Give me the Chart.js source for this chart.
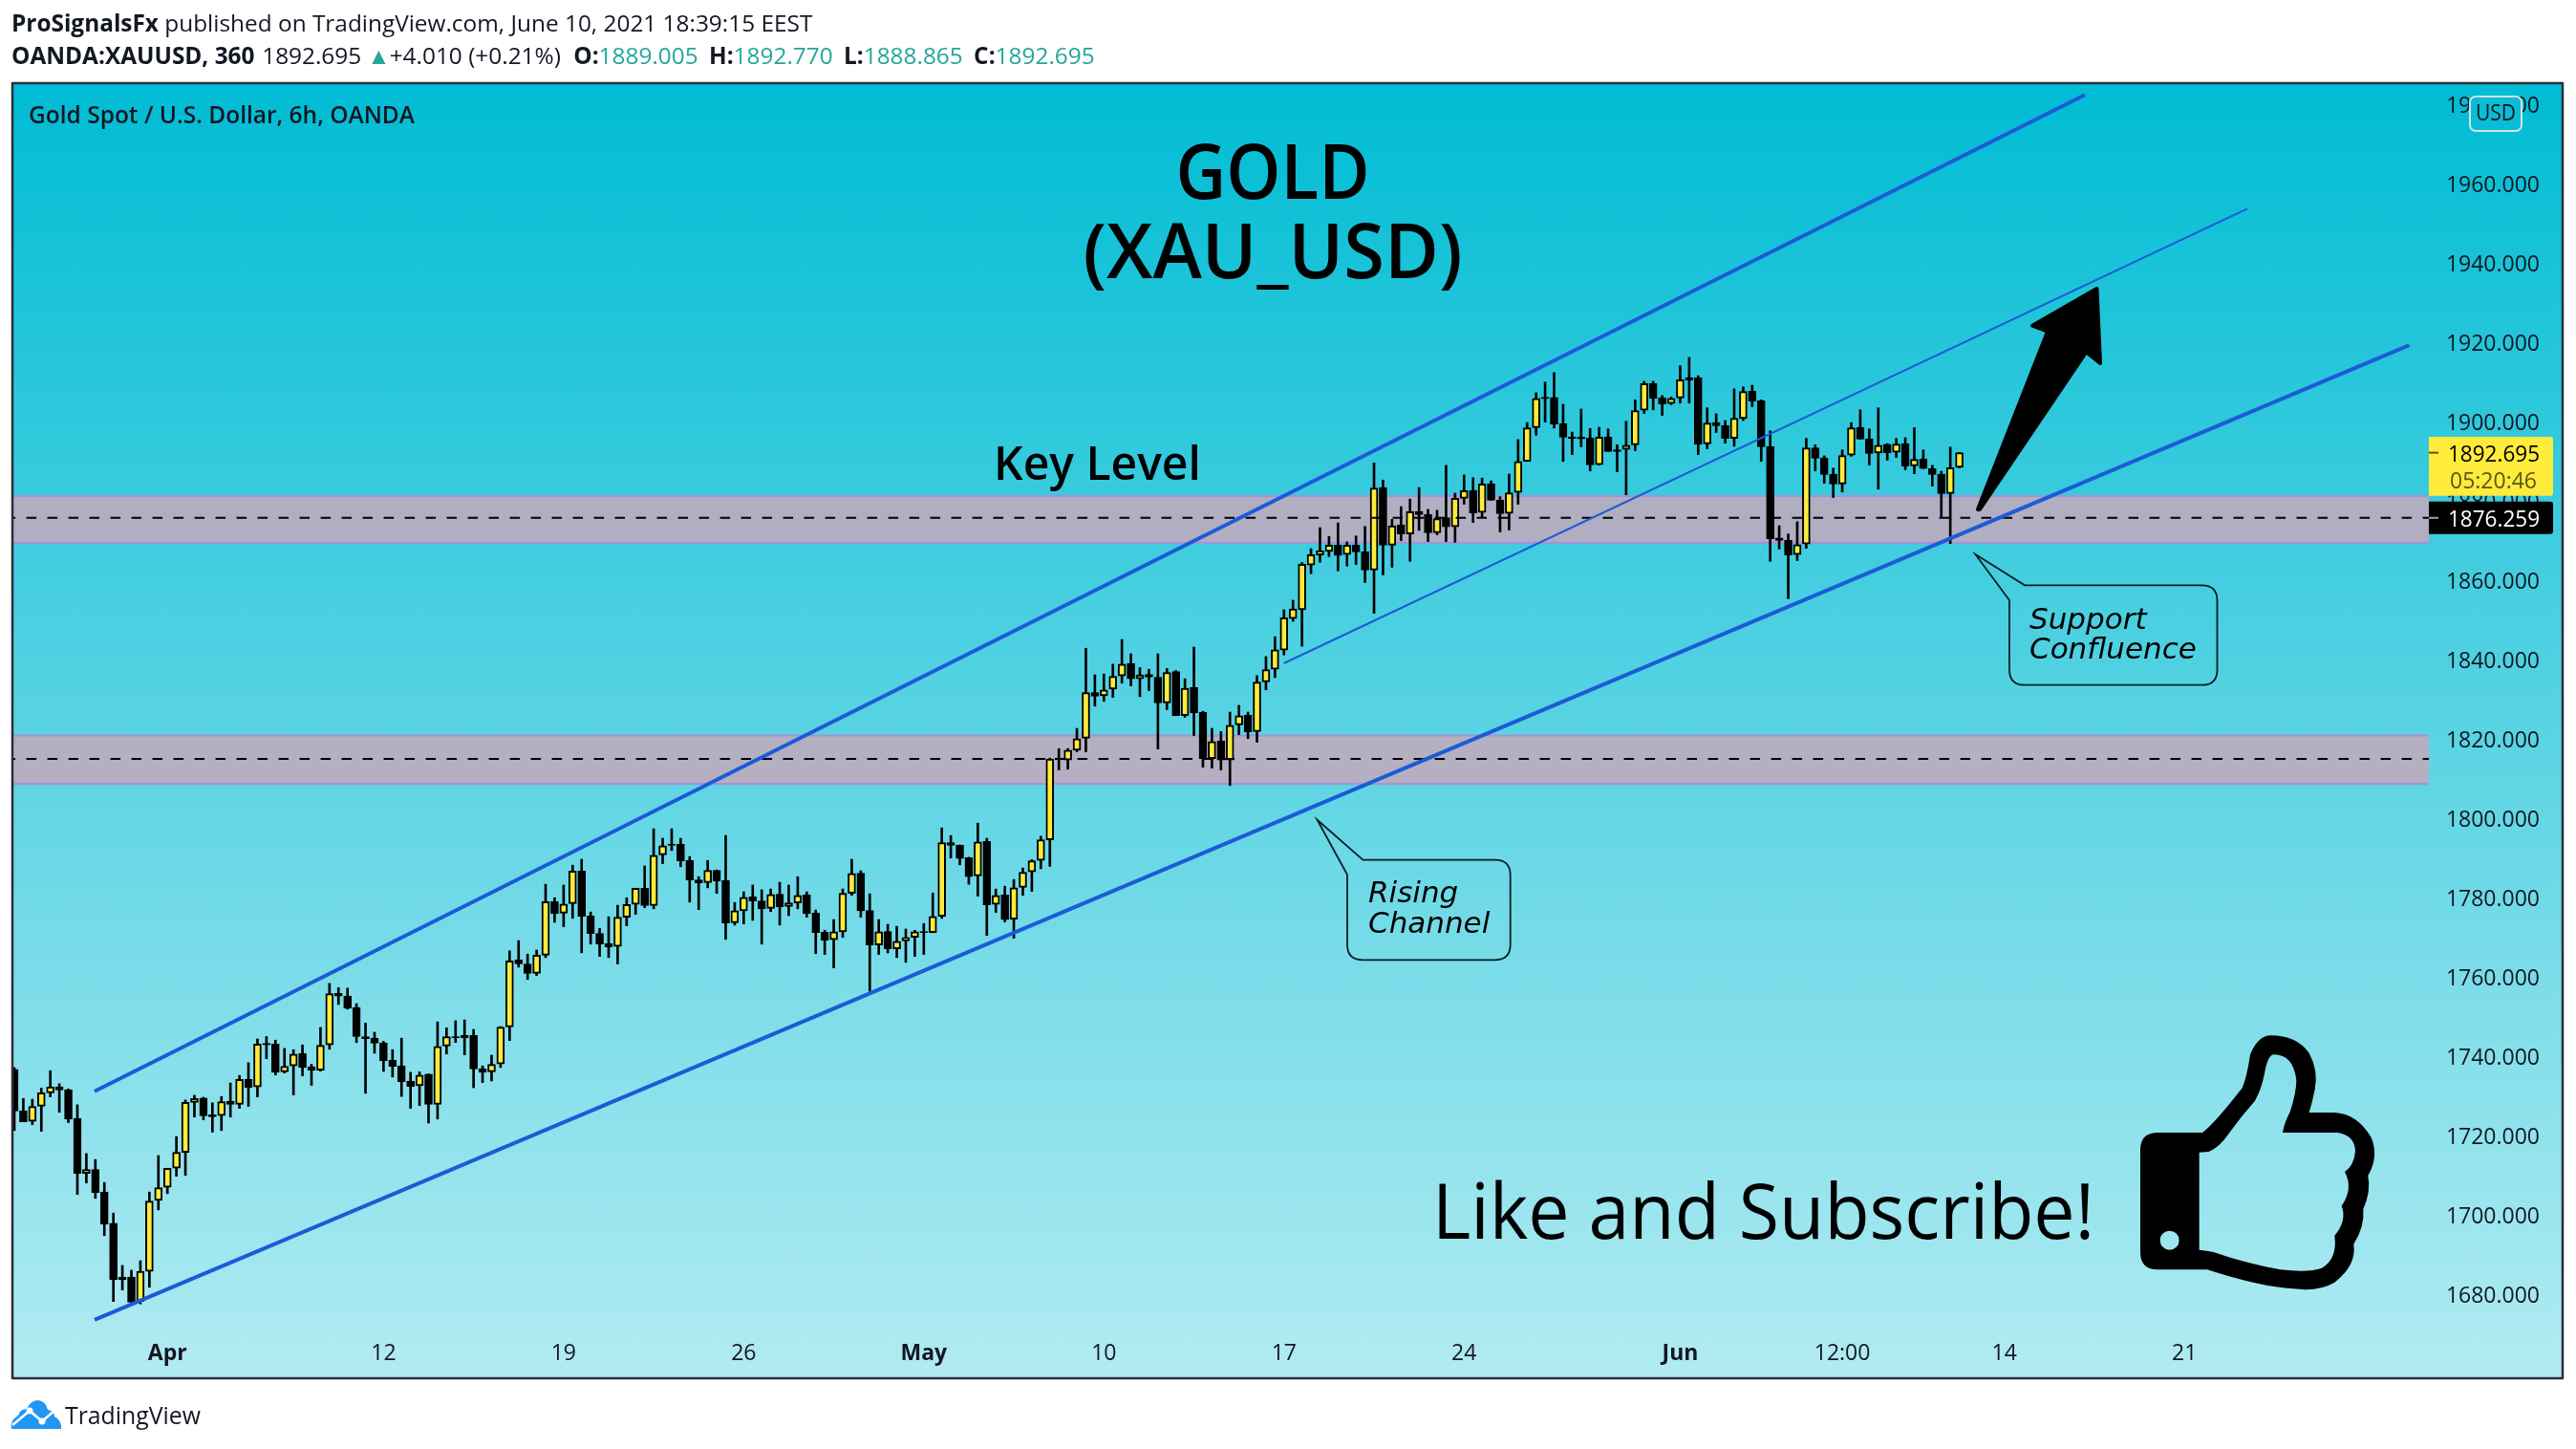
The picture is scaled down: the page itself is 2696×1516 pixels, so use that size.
<!DOCTYPE html>
<html>
<head>
<meta charset="utf-8">
<title>GOLD (XAU_USD)</title>
<script src="https://cdn.jsdelivr.net/npm/chart.js@4/dist/chart.umd.min.js"></script>
<style>
    html, body { margin: 0; padding: 0; background: #fff; }
    body { width: 2696px; height: 1516px; position: relative; overflow: hidden; font-family: "Open Sans", sans-serif; color: #131722; }
    #chartBox { position: absolute; left: 0; top: 0; width: 2696px; height: 1516px; }
    .line { position: absolute; left: 12px; white-space: nowrap; font-size: 24.4px; line-height: 30px; }
    .line b { font-weight: 700; }
    .num { color: #26a69a; }
    .up { color: #26a69a; font-size: 24px; margin-right: -7px; }
    .gap { margin-left: 5px; }
    #brand { position: absolute; left: 68px; top: 1463px; font-size: 24.8px; line-height: 34px; }
    #logo { position: absolute; left: 10px; top: 1462px; }
</style>
</head>
<body>
<div id="chartBox"><canvas id="goldChart" width="2696" height="1516"></canvas></div>
<div class="line" style="top:9px"><b>ProSignalsFx</b> published on TradingView.com, June 10, 2021 18:39:15 EEST</div>
<div class="line" style="top:43px"><b>OANDA:XAUUSD, 360</b>&nbsp;<span style="margin-left:-5px"> 1892.695</span> <span class="up">▲</span> +4.010 (+0.21%) <b style="margin-left:7px">O:</b><span class="num">1889.005</span> <b class="gap">H:</b><span class="num">1892.770</span> <b class="gap">L:</b><span class="num">1888.865</span> <b class="gap">C:</b><span class="num">1892.695</span></div>
<svg id="logo" width="56" height="36" viewBox="0 0 56 36">
    <path fill="#2196f3" d="M2 33 Q0 24 9 19 Q11 12 18 12 Q22 3 30 3 Q38 4 40 13 Q47 14 47 20 Q55 24 54 33 Z"/>
    <polyline fill="none" stroke="#fff" stroke-width="2.5" points="3,29 21,14 34,25 48,13"/>
    <circle cx="21" cy="14" r="3.5" fill="#fff"/>
    <circle cx="34" cy="25" r="3.5" fill="#fff"/>
</svg>
<div id="brand">TradingView</div>

<script>
// candles, one per 6h session, oldest first
const opens = [
    1737.2, 1726.8, 1724.1, 1727.9, 1731.3, 1732.8, 1732.1, 1724.9, 1711.0, 1712.0,
    1706.3, 1698.4, 1684.8, 1684.9, 1678.7, 1686.3, 1704.2, 1707.5, 1712.3, 1716.3,
    1728.9, 1730.0, 1725.8, 1725.6, 1729.2, 1728.4, 1734.7, 1732.8, 1743.8, 1743.6,
    1736.6, 1738.1, 1741.2, 1737.9, 1737.0, 1743.4, 1756.4, 1755.7, 1752.8, 1745.5,
    1745.1, 1743.9, 1739.6, 1738.1, 1734.2, 1733.1, 1736.0, 1728.4, 1743.1, 1745.5,
    1745.8, 1745.8, 1737.4, 1736.6, 1738.6, 1747.9, 1764.8, 1763.8, 1761.4, 1766.0,
    1779.5, 1776.6, 1779.0, 1787.2, 1775.9, 1771.5, 1768.9, 1768.2, 1775.6, 1778.8,
    1782.9, 1778.5, 1791.3, 1794.0, 1794.0, 1789.9, 1785.0, 1784.3, 1787.4, 1784.8,
    1774.2, 1777.2, 1780.7, 1779.7, 1777.8, 1781.4, 1778.3, 1779.2, 1781.2, 1776.6,
    1771.8, 1769.9, 1771.9, 1781.6, 1786.7, 1777.3, 1768.6, 1772.0, 1767.6, 1769.6,
    1770.5, 1772.0, 1771.7, 1775.8, 1794.4, 1793.7, 1790.6, 1786.0, 1794.7, 1778.8,
    1781.2, 1775.1, 1783.1, 1787.0, 1789.9, 1795.1, 1815.7, 1815.2, 1817.7, 1820.7,
    1832.2, 1831.4, 1833.1, 1836.4, 1839.5, 1835.7, 1836.8, 1836.1, 1829.6, 1837.5,
    1826.4, 1833.5, 1827.2, 1815.6, 1820.0, 1815.2, 1824.1, 1826.5, 1822.4, 1834.9,
    1838.1, 1842.9, 1850.9, 1853.1, 1864.4, 1866.9, 1867.8, 1869.4, 1867.0, 1869.4,
    1867.7, 1863.1, 1883.9, 1869.4, 1874.5, 1872.2, 1877.9, 1877.1, 1872.5, 1876.3,
    1874.0, 1881.2, 1883.2, 1877.6, 1884.9, 1880.8, 1877.4, 1882.7, 1890.5, 1899.0,
    1906.7, 1906.6, 1900.0, 1896.7, 1896.6, 1896.4, 1889.7, 1896.7, 1893.4, 1893.5,
    1894.7, 1903.4, 1910.2, 1906.5, 1905.1, 1906.5, 1911.6, 1911.6, 1894.9, 1900.3,
    1899.5, 1896.3, 1901.3, 1908.2, 1905.8, 1894.2, 1871.2, 1870.6, 1867.0, 1869.7,
    1893.9, 1891.4, 1887.3, 1884.8, 1892.1, 1899.1, 1896.2, 1892.6, 1894.8, 1892.8,
    1895.0, 1889.4, 1891.1, 1888.7, 1887.3, 1882.4, 1889.005
];
const highs = [
    1737.7, 1729.9, 1729.7, 1732.5, 1736.9, 1733.6, 1732.3, 1728.3, 1716.0, 1714.5,
    1708.7, 1701.0, 1687.8, 1686.6, 1689.0, 1706.3, 1715.5, 1712.3, 1720.3, 1729.5,
    1730.7, 1730.2, 1728.8, 1730.4, 1733.8, 1735.7, 1738.9, 1744.9, 1745.5, 1744.6,
    1742.5, 1742.2, 1743.4, 1738.5, 1747.8, 1758.9, 1757.8, 1757.7, 1753.8, 1748.9,
    1746.6, 1744.3, 1742.2, 1745.1, 1736.5, 1736.6, 1736.1, 1749.2, 1747.7, 1749.5,
    1749.7, 1747.3, 1738.1, 1740.8, 1748.0, 1767.1, 1769.7, 1766.3, 1767.3, 1783.9,
    1780.5, 1783.7, 1788.7, 1790.2, 1776.9, 1772.8, 1775.7, 1778.6, 1780.5, 1782.9,
    1788.5, 1797.9, 1795.5, 1797.9, 1795.5, 1790.9, 1785.8, 1789.9, 1787.5, 1796.2,
    1779.3, 1782.0, 1783.7, 1782.5, 1782.7, 1784.4, 1783.7, 1785.8, 1782.0, 1777.4,
    1772.3, 1775.0, 1782.7, 1790.2, 1787.3, 1781.5, 1775.0, 1773.8, 1773.3, 1772.6,
    1772.3, 1774.0, 1781.7, 1798.1, 1796.2, 1793.8, 1790.7, 1799.3, 1795.5, 1782.7,
    1783.4, 1785.1, 1788.0, 1790.1, 1796.0, 1815.7, 1818.1, 1818.1, 1823.2, 1843.4,
    1836.7, 1836.9, 1839.4, 1845.6, 1842.0, 1838.5, 1838.1, 1842.0, 1838.3, 1837.8,
    1835.7, 1843.7, 1827.5, 1823.2, 1822.4, 1827.3, 1829.0, 1827.3, 1836.5, 1841.3,
    1846.3, 1853.1, 1855.5, 1865.0, 1868.5, 1873.8, 1871.6, 1875.0, 1870.2, 1871.7,
    1874.1, 1890.1, 1885.8, 1875.9, 1879.1, 1881.0, 1883.9, 1878.4, 1878.2, 1889.5,
    1882.5, 1887.1, 1886.4, 1886.3, 1885.6, 1881.6, 1887.3, 1896.0, 1900.3, 1907.8,
    1910.5, 1912.9, 1904.9, 1897.9, 1903.7, 1898.8, 1899.1, 1898.7, 1894.7, 1900.6,
    1906.0, 1910.7, 1910.7, 1907.1, 1906.7, 1914.6, 1916.7, 1912.1, 1904.0, 1902.5,
    1900.8, 1908.8, 1909.3, 1909.7, 1906.0, 1898.2, 1874.3, 1872.2, 1875.3, 1896.3,
    1894.7, 1891.9, 1888.8, 1893.4, 1900.3, 1903.5, 1898.7, 1904.0, 1895.0, 1896.3,
    1896.5, 1899.0, 1893.4, 1889.5, 1888.0, 1894.1, 1892.770
];
const lows = [
    1721.8, 1724.0, 1723.3, 1721.6, 1730.3, 1726.4, 1723.8, 1705.7, 1708.6, 1704.7,
    1695.3, 1678.7, 1681.6, 1678.3, 1678.1, 1682.3, 1701.8, 1705.9, 1710.3, 1710.5,
    1725.2, 1724.5, 1721.4, 1721.8, 1725.2, 1727.4, 1727.9, 1730.3, 1739.9, 1735.8,
    1736.3, 1730.8, 1735.6, 1733.2, 1736.8, 1742.3, 1753.6, 1752.4, 1744.0, 1731.2,
    1741.3, 1736.7, 1735.3, 1730.4, 1727.4, 1728.1, 1723.7, 1724.7, 1741.1, 1744.0,
    1740.9, 1732.6, 1733.9, 1734.3, 1737.7, 1744.5, 1763.0, 1759.9, 1760.9, 1765.4,
    1774.3, 1773.2, 1775.3, 1766.6, 1768.8, 1765.7, 1765.4, 1763.8, 1773.4, 1776.3,
    1778.0, 1777.7, 1789.1, 1792.4, 1788.3, 1779.4, 1777.5, 1783.0, 1781.6, 1770.0,
    1773.6, 1773.9, 1774.8, 1768.8, 1777.0, 1773.6, 1776.0, 1777.7, 1775.6, 1766.4,
    1766.2, 1762.8, 1770.5, 1781.1, 1775.6, 1756.9, 1766.2, 1766.6, 1765.4, 1764.2,
    1765.7, 1766.2, 1771.7, 1775.3, 1790.5, 1788.8, 1783.9, 1780.9, 1771.0, 1776.8,
    1774.4, 1770.3, 1781.1, 1782.1, 1787.8, 1788.4, 1812.7, 1812.9, 1817.3, 1817.3,
    1828.8, 1830.0, 1831.0, 1834.6, 1833.9, 1831.2, 1832.7, 1818.0, 1827.9, 1826.4,
    1826.0, 1821.4, 1813.4, 1813.2, 1812.7, 1808.8, 1821.6, 1820.6, 1819.7, 1832.9,
    1836.0, 1841.7, 1850.2, 1843.9, 1862.2, 1865.1, 1866.5, 1862.9, 1864.1, 1864.5,
    1860.0, 1852.2, 1861.9, 1863.8, 1870.5, 1865.3, 1873.1, 1870.3, 1872.0, 1870.3,
    1870.1, 1879.7, 1875.1, 1876.5, 1880.7, 1872.7, 1873.2, 1879.7, 1890.5, 1897.1,
    1900.4, 1898.9, 1890.5, 1892.2, 1894.2, 1888.1, 1889.6, 1893.0, 1887.9, 1882.1,
    1893.2, 1902.6, 1903.5, 1902.1, 1904.8, 1905.2, 1905.2, 1892.2, 1893.7, 1897.8,
    1895.1, 1894.3, 1900.8, 1904.3, 1890.5, 1865.3, 1868.4, 1855.9, 1865.5, 1868.6,
    1888.1, 1885.0, 1881.4, 1882.8, 1891.8, 1896.1, 1889.6, 1883.5, 1890.8, 1891.5,
    1888.4, 1887.4, 1888.7, 1884.3, 1876.6, 1869.8, 1888.865
];
const closes = [
    1726.7, 1724.0, 1727.9, 1731.3, 1732.8, 1732.0, 1724.7, 1711.0, 1712.0, 1706.2,
    1698.2, 1684.2, 1684.2, 1678.5, 1686.3, 1704.0, 1707.4, 1712.3, 1716.3, 1728.9,
    1729.9, 1725.5, 1725.3, 1729.1, 1728.4, 1734.7, 1732.7, 1743.6, 1743.4, 1736.5,
    1738.0, 1741.1, 1737.7, 1737.0, 1743.3, 1756.3, 1755.7, 1752.6, 1745.5, 1745.0,
    1743.8, 1739.4, 1738.0, 1734.1, 1732.9, 1735.8, 1728.4, 1743.0, 1745.5, 1745.2,
    1745.2, 1737.3, 1736.5, 1738.5, 1747.9, 1764.6, 1763.8, 1761.4, 1766.0, 1779.5,
    1776.5, 1778.9, 1787.2, 1775.8, 1771.5, 1768.8, 1768.1, 1775.6, 1778.8, 1782.9,
    1778.5, 1791.2, 1793.6, 1793.7, 1789.8, 1785.0, 1784.2, 1787.4, 1784.7, 1774.1,
    1777.2, 1780.6, 1779.7, 1777.7, 1781.3, 1778.2, 1779.2, 1781.1, 1776.5, 1771.7,
    1769.8, 1771.9, 1781.6, 1786.6, 1777.2, 1768.6, 1771.9, 1767.6, 1769.5, 1770.5,
    1771.9, 1771.7, 1775.8, 1794.4, 1793.7, 1790.4, 1785.8, 1794.6, 1778.7, 1781.1,
    1775.0, 1783.0, 1786.9, 1789.8, 1795.1, 1815.5, 1815.3, 1817.7, 1820.6, 1832.2,
    1831.3, 1832.9, 1836.3, 1839.4, 1835.7, 1836.7, 1836.1, 1829.6, 1837.3, 1826.4,
    1833.3, 1827.1, 1815.6, 1819.9, 1815.2, 1824.0, 1826.4, 1822.3, 1834.9, 1838.0,
    1843.0, 1851.1, 1853.3, 1864.6, 1867.0, 1868.0, 1869.4, 1866.8, 1869.4, 1867.7,
    1863.1, 1883.8, 1869.4, 1874.3, 1872.2, 1877.8, 1877.1, 1872.5, 1876.1, 1874.0,
    1881.2, 1883.1, 1877.5, 1884.8, 1880.7, 1877.3, 1882.6, 1890.5, 1899.0, 1906.4,
    1906.3, 1899.9, 1896.6, 1896.3, 1896.2, 1889.6, 1896.6, 1893.0, 1893.0, 1894.6,
    1903.3, 1910.1, 1906.4, 1905.0, 1906.4, 1911.1, 1911.0, 1894.8, 1900.2, 1899.5,
    1896.3, 1901.4, 1908.1, 1905.7, 1894.2, 1871.0, 1870.6, 1866.9, 1869.5, 1893.9,
    1891.3, 1887.2, 1884.8, 1892.0, 1899.0, 1896.1, 1892.5, 1894.6, 1892.7, 1894.9,
    1889.3, 1891.0, 1888.7, 1887.2, 1882.4, 1888.9, 1892.695
];

// drawn levels: x is the candle number, y the price
const upperChannel = [{ x: 8.91, y: 1731.7 }, { x: 229.95, y: 1982.9 }];
const lowerChannel = [{ x: 8.91, y: 1674.1 }, { x: 265.97, y: 1919.8 }];
const midChannel = [{ x: 140.98, y: 1839.6 }, { x: 247.98, y: 1954.2 }];
const keyLevelHigh = [{ x: -1, y: 1876.259 }, { x: 268.15, y: 1876.259 }];
const keyLevelLow = [{ x: -1, y: 1815.5 }, { x: 268.15, y: 1815.5 }];
const zoneHigh = [1870.0, 1881.76];
const zoneLow = [1809.2, 1821.4];
const zoneEnd = 268.15;

const priceTicks = [1680, 1700, 1720, 1740, 1760, 1780, 1800, 1820, 1840, 1860, 1880, 1900, 1920, 1940, 1960, 1980];
const timeTicks = [17, 41, 61, 81, 101, 121, 141, 161, 185, 203, 221, 241];
const timeLabels = ['Apr', '12', '19', '26', 'May', '10', '17', '24', 'Jun', '12:00', '14', '21'];
const boldLabels = ['Apr', 'May', 'Jun'];
const lastPrice = 1892.695;
const keyPrice = 1876.259;

const INK = '#131722';
const AXIS_FONT = '"Open Sans", sans-serif';

const bodyData = closes.map((c, i) => ({ x: i, y: [opens[i], c] }));
const wickData = closes.map((c, i) => ({ x: i, y: [lows[i], highs[i]] }));
const bodyColors = closes.map((c, i) => (c >= opens[i] ? '#ffeb3b' : '#000000'));

function label(ctx, text, x, y, font, color, maxWidth, align) {
    ctx.font = font;
    ctx.fillStyle = color;
    ctx.textAlign = align || 'left';
    ctx.textBaseline = 'middle';
    if (maxWidth) ctx.fillText(text, x, y, maxWidth);
    else ctx.fillText(text, x, y);
}

function roundBox(ctx, x, y, w, h, r) {
    ctx.beginPath();
    ctx.roundRect(x, y, w, h, r);
}

function bubble(ctx, tip, joinTop, joinLeft, left, top, right, bottom) {
    const r = 16;
    ctx.beginPath();
    ctx.moveTo(tip[0], tip[1]);
    ctx.lineTo(joinTop, top);
    ctx.lineTo(right - r, top);
    ctx.quadraticCurveTo(right, top, right, top + r);
    ctx.lineTo(right, bottom - r);
    ctx.quadraticCurveTo(right, bottom, right - r, bottom);
    ctx.lineTo(left + r, bottom);
    ctx.quadraticCurveTo(left, bottom, left, bottom - r);
    ctx.lineTo(left, joinLeft);
    ctx.closePath();
    ctx.strokeStyle = '#0b1f24';
    ctx.lineWidth = 1.8;
    ctx.stroke();
}

const thumb = new Path2D(
    'M175,375 L315,375 Q350,350 440,235 Q455,200 465,130 Q490,70 530,70 Q610,70 650,125 Q680,180 668,240 Q660,280 650,312 ' +
    'L730,312 Q800,315 845,390 Q870,450 835,510 Q845,560 820,615 Q825,670 790,725 Q800,790 730,845 Q680,875 600,865 Q500,860 330,805 ' +
    'L175,805 Q120,805 120,750 L120,430 Q120,375 175,375 Z ' +
    'M305,437 L335,435 Q370,420 400,375 Q440,320 480,275 Q500,240 510,190 Q520,130 540,130 Q600,130 610,210 Q610,250 590,310 Q570,350 567,375 ' +
    'L740,375 Q795,385 795,435 Q790,480 762,498 Q790,550 752,605 Q770,650 730,698 Q740,770 690,800 Q650,815 560,805 Q450,785 350,750 Q330,745 305,743 Z ' +
    'M242,713 A30,30 0 1 0 182,713 A30,30 0 1 0 242,713 Z'
);

const background = {
    id: 'background',
    beforeDraw(chart) {
        const { ctx, chartArea: a } = chart;
        const g = ctx.createLinearGradient(0, a.top, 0, a.bottom);
        g.addColorStop(0, '#00bcd4');
        g.addColorStop(1, '#b2ebf2');
        ctx.fillStyle = g;
        ctx.fillRect(a.left, a.top, a.right - a.left, a.bottom - a.top);
    },
    beforeDatasetsDraw(chart) {
        const { ctx, chartArea: a, scales: { x, y } } = chart;
        [zoneHigh, zoneLow].forEach(z => {
            const top = y.getPixelForValue(z[1]);
            const bottom = y.getPixelForValue(z[0]);
            const right = x.getPixelForValue(zoneEnd);
            ctx.fillStyle = 'rgba(197, 168, 188, 0.855)';
            ctx.fillRect(a.left, top, right - a.left, bottom - top);
            ctx.fillStyle = '#a98fd6';
            ctx.fillRect(a.left, top - 1, right - a.left, 2);
            ctx.fillRect(a.left, bottom - 1, right - a.left, 2);
        });
    }
};

const annotations = {
    id: 'annotations',
    afterDatasetsDraw(chart) {
        const { ctx, chartArea: a, scales: { y } } = chart;
        ctx.save();

        label(ctx, 'Gold Spot / U.S. Dollar, 6h, OANDA', 30, 122, '600 24.5px ' + AXIS_FONT, INK, 404);
        label(ctx, 'GOLD', 1332, 185, '600 80px "Open Sans"', '#000', 203, 'center');
        label(ctx, '(XAU_USD)', 1332, 268, '600 80px "Open Sans"', '#000', 397, 'center');
        label(ctx, 'Key Level', 1040, 488, '600 48px "Open Sans"', '#000', 218);
        label(ctx, 'Like and Subscribe!', 1499, 1273, '400 80px "Open Sans"', '#000', 693);

        // callouts
        bubble(ctx, [1378.6, 857.7], 1426.4, 915, 1410, 899.7, 1580.7, 1004.3);
        label(ctx, 'Rising', 1432, 936, 'italic 31px "DejaVu Sans"', '#000');
        label(ctx, 'Channel', 1432, 968, 'italic 31px "DejaVu Sans"', '#000');
        bubble(ctx, [2067.5, 580], 2119, 628, 2103, 612.3, 2320.5, 716.7);
        label(ctx, 'Support', 2124, 650, 'italic 31px "DejaVu Sans"', '#000');
        label(ctx, 'Confluence', 2124, 681, 'italic 31px "DejaVu Sans"', '#000');

        // up arrow
        ctx.beginPath();
        ctx.moveTo(2070, 533);
        ctx.lineTo(2143, 346.7);
        ctx.lineTo(2127, 340.7);
        ctx.lineTo(2194.5, 302);
        ctx.lineTo(2198, 380);
        ctx.lineTo(2183.3, 368.3);
        ctx.lineTo(2072, 533);
        ctx.closePath();
        ctx.fillStyle = '#000';
        ctx.strokeStyle = '#000';
        ctx.lineWidth = 4;
        ctx.lineJoin = 'round';
        ctx.fill();
        ctx.stroke();

        // thumbs up icon
        ctx.save();
        ctx.translate(2200, 1060);
        ctx.scale(1 / 3, 1 / 3);
        ctx.fillStyle = '#000';
        ctx.fill(thumb, 'evenodd');
        ctx.restore();

        // price labels
        const lastY = y.getPixelForValue(lastPrice);
        const keyY = y.getPixelForValue(keyPrice);
        ctx.fillStyle = '#ffeb3b';
        roundBox(ctx, 2542, lastY - 16.6, 130, 61.7, [0, 3, 3, 0]);
        ctx.fill();
        ctx.fillStyle = '#5d5614';
        ctx.fillRect(2542, lastY - 1, 10, 2);
        label(ctx, lastPrice.toFixed(3), 2658, lastY + 2.5, '23px ' + AXIS_FONT, '#000', 96, 'right');
        label(ctx, '05:20:46', 2655, lastY + 31, '23px ' + AXIS_FONT, '#5d5614', 93, 'right');
        ctx.fillStyle = '#000';
        roundBox(ctx, 2542, keyY - 17, 130, 34, [0, 3, 3, 0]);
        ctx.fill();
        ctx.fillStyle = '#9aa0a6';
        ctx.fillRect(2542, keyY - 1, 10, 2);
        label(ctx, keyPrice.toFixed(3), 2658, keyY + 2.5, '23px ' + AXIS_FONT, '#fff', 96, 'right');

        // currency badge
        ctx.fillStyle = '#0bbcd6';
        ctx.strokeStyle = '#cfe3e8';
        ctx.lineWidth = 2;
        roundBox(ctx, 2585, 101, 54, 36, 6);
        ctx.fill();
        ctx.stroke();
        label(ctx, 'USD', 2612, 119, '23px ' + AXIS_FONT, INK, 42, 'center');

        // frame
        ctx.strokeStyle = '#2a2e39';
        ctx.lineWidth = 2.5;
        ctx.strokeRect(a.left, a.top, a.right - a.left, a.bottom - a.top);
        ctx.restore();
    }
};

const ctx = document.getElementById('goldChart').getContext('2d');
new Chart(ctx, {
    type: 'bar',
    data: {
        datasets: [
            { type: 'line', data: upperChannel, borderColor: '#1c5bd6', borderWidth: 4, pointRadius: 0, order: 1 },
            { type: 'line', data: lowerChannel, borderColor: '#1c5bd6', borderWidth: 4, pointRadius: 0, order: 1 },
            { type: 'line', data: midChannel, borderColor: '#1c5bd6', borderWidth: 2, pointRadius: 0, order: 1 },
            { type: 'line', data: keyLevelHigh, borderColor: '#000', borderWidth: 2, borderDash: [10.5, 11.5], pointRadius: 0, order: 1 },
            { type: 'line', data: keyLevelLow, borderColor: '#000', borderWidth: 2, borderDash: [10.5, 11.5], pointRadius: 0, order: 1 },
            { data: bodyData, backgroundColor: bodyColors, borderColor: '#000', borderWidth: 2, borderSkipped: false, barThickness: 8, grouped: false, order: 2 },
            { data: wickData, backgroundColor: '#000', borderWidth: 0, barThickness: 2, grouped: false, order: 3 }
        ]
    },
    plugins: [background, annotations],
    options: {
        responsive: false,
        animation: false,
        devicePixelRatio: 1,
        layout: { padding: { left: 13, right: 14, top: 87, bottom: 74 } },
        plugins: { legend: { display: false }, title: { display: false }, tooltip: { enabled: false } },
        scales: {
            x: {
                type: 'linear',
                min: -0.212,
                max: 283,
                offset: false,
                grid: { display: false, drawTicks: false },
                border: { display: false },
                afterBuildTicks: scale => { scale.ticks = timeTicks.map(v => ({ value: v })); },
                afterFit: scale => { scale.height = 0; },
                ticks: {
                    mirror: true,
                    autoSkip: false,
                    maxRotation: 0,
                    padding: 12,
                    color: INK,
                    callback: (v, i) => timeLabels[i],
                    font: c => ({
                        family: AXIS_FONT,
                        size: 23,
                        weight: boldLabels.includes(timeLabels[c.index]) ? '700' : '400'
                    })
                }
            },
            y: {
                position: 'right',
                min: 1659.35,
                max: 1985.86,
                grid: { display: false, drawTicks: false },
                border: { display: false },
                afterBuildTicks: scale => { scale.ticks = priceTicks.map(v => ({ value: v })); },
                afterFit: scale => { scale.width = 0; },
                ticks: {
                    mirror: true,
                    padding: -24,
                    color: INK,
                    callback: v => v.toFixed(3),
                    font: { family: AXIS_FONT, size: 23 }
                }
            }
        }
    }
});
</script>
</body>
</html>
